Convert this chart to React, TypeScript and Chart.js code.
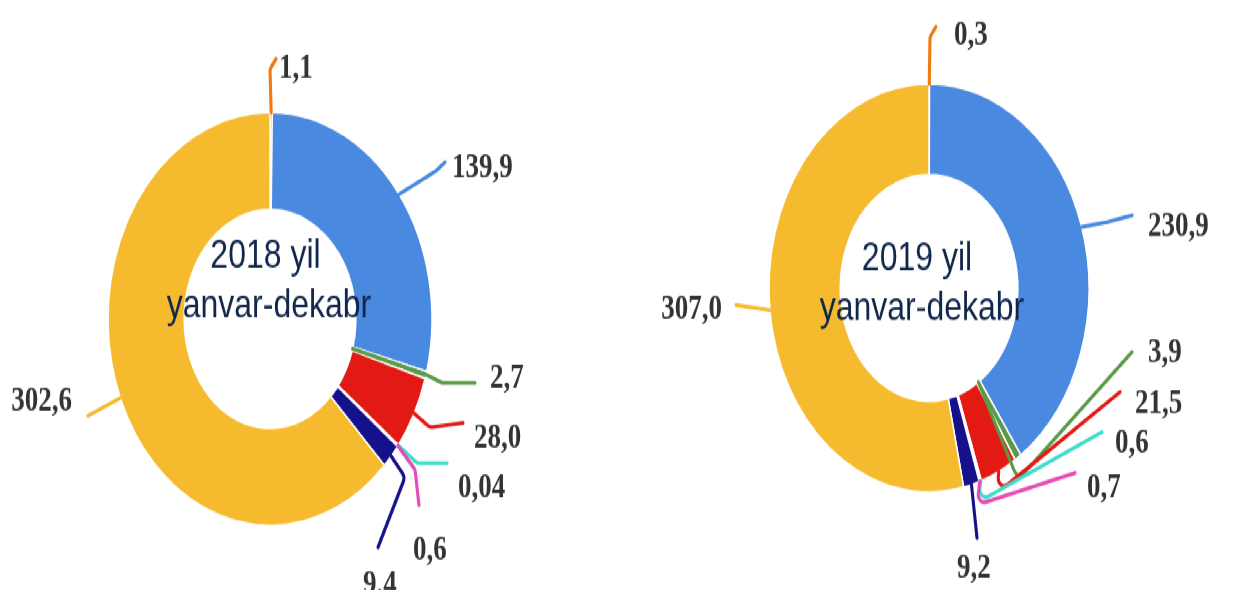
import React, { useEffect, useRef } from 'react';
import { Chart, registerables } from 'chart.js';

Chart.register(...registerables);

// ---------- data ----------
const categories = ['Seg 1', 'Seg 2', 'Seg 3', 'Seg 4', 'Seg 5', 'Seg 6', 'Seg 7', 'Seg 8'];
const values2018 = [1.1, 139.9, 2.7, 28.0, 0.04, 0.6, 9.4, 302.6];
const values2019 = [0.3, 230.9, 3.9, 21.5, 0.6, 0.7, 9.2, 307.0];
const title2018 = ['2018 yil', 'yanvar-dekabr'];
const title2019 = ['2019 yil', 'yanvar-dekabr'];

// ---------- style ----------
const colors = ['#EE7A10', '#4A89E0', '#5A9A46', '#E31A14', '#40DCC8', '#E64CB4', '#14118A', '#F6BA2E'];
const STRETCH = 1.275;
const CANVAS_H = 463;

type Leader = {
  from: 'outer' | 'inner';
  pts: [number, number][];
  label: [number, number];
  align: CanvasTextAlign;
};

// offsets relative to doughnut centre (pre-stretch px)
const leaders2018: Leader[] = [
  { from: 'outer', pts: [[0, -196], [6, -204]], label: [9, -189], align: 'left' },
  { from: 'outer', pts: [[166, -116], [175, -123]], label: [182, -111], align: 'left' },
  { from: 'inner', pts: [[157, 44], [172, 50], [205, 50]], label: [220, 53.5], align: 'left' },
  { from: 'outer', pts: [[160, 85], [193, 81.5]], label: [204, 100.5], align: 'left' },
  { from: 'outer', pts: [[147, 113], [177, 113]], label: [188, 139.6], align: 'left' },
  { from: 'outer', pts: [[145, 118], [149, 146]], label: [143, 189], align: 'left' },
  { from: 'outer', pts: [[135, 124], [108, 179]], label: [93, 215.5], align: 'left' },
  { from: 'outer', pts: [[-182, 76]], label: [-198, 71.4], align: 'right' },
];

const leaders2019: Leader[] = [
  { from: 'outer', pts: [[1, -197], [7, -205]], label: [25, -191.4], align: 'left' },
  { from: 'outer', pts: [[180, -52], [203, -57]], label: [219, -40.8], align: 'left' },
  { from: 'inner', pts: [[89, 150.6], [203, 50.2]], label: [219, 58], align: 'left' },
  { from: 'outer', pts: [[68, 161], [191, 81.6]], label: [206, 98], align: 'left' },
  { from: 'outer', pts: [[49, 168], [173, 113]], label: [186, 129.4], align: 'left' },
  { from: 'outer', pts: [[48, 170], [146, 145]], label: [158, 164], align: 'left' },
  { from: 'outer', pts: [[48, 196]], label: [28, 227.5], align: 'left' },
  { from: 'outer', pts: [[-193, 13.3]], label: [-207, 24.3], align: 'right' },
];

const fmt = (v: number) => v.toFixed(v < 0.1 ? 2 : 1).replace('.', ',');

function makePlugin(leaders: Leader[], title: string[], titleOffsets: [number, number][]) {
  return {
    id: 'leadersAndTitle',
    afterDatasetsDraw(chart: any) {
      const ctx: CanvasRenderingContext2D = chart.ctx;
      const meta = chart.getDatasetMeta(0);
      const values: number[] = chart.data.datasets[0].data;
      ctx.save();
      meta.data.forEach((arc: any, i: number) => {
        const L = leaders[i];
        if (!L) return;
        const p = arc.getProps(['x', 'y', 'startAngle', 'endAngle', 'innerRadius', 'outerRadius'], true);
        const mid = (p.startAngle + p.endAngle) / 2;
        const r = L.from === 'outer' ? p.outerRadius : p.innerRadius;
        const pts: [number, number][] = [[p.x + Math.cos(mid) * r, p.y + Math.sin(mid) * r]];
        L.pts.forEach(([dx, dy]) => pts.push([p.x + dx, p.y + dy]));
        ctx.strokeStyle = colors[i];
        ctx.lineWidth = 3.1;
        ctx.lineCap = 'round';
        ctx.lineJoin = 'round';
        ctx.beginPath();
        ctx.moveTo(pts[0][0], pts[0][1]);
        for (let k = 1; k < pts.length; k++) {
          if (k < pts.length - 1) {
            ctx.arcTo(pts[k][0], pts[k][1], pts[k + 1][0], pts[k + 1][1], 6);
          } else {
            ctx.lineTo(pts[k][0], pts[k][1]);
          }
        }
        ctx.stroke();
        ctx.fillStyle = '#333333';
        ctx.font = 'bold 27px "Liberation Serif", "Times New Roman", serif';
        ctx.textAlign = L.align;
        ctx.textBaseline = 'alphabetic';
        ctx.fillText(fmt(values[i]), p.x + L.label[0], p.y + L.label[1]);
      });
      const c = meta.data[0].getProps(['x', 'y'], true);
      ctx.fillStyle = '#10264A';
      ctx.font = '32px "Liberation Sans", Arial, sans-serif';
      ctx.textAlign = 'center';
      title.forEach((t, k) => {
        ctx.fillText(t, c.x + titleOffsets[k][0], c.y + titleOffsets[k][1]);
      });
      ctx.restore();
    },
  };
}

function Donut(props: {
  values: number[];
  leaders: Leader[];
  title: string[];
  titleOffsets: [number, number][];
  left: number;
  width: number;
  padding: { top: number; bottom: number; left: number; right: number };
  radius: number;
  cutout: string;
}) {
  const ref = useRef<HTMLCanvasElement>(null);
  useEffect(() => {
    if (!ref.current) return;
    const chart = new Chart(ref.current, {
      type: 'doughnut',
      data: {
        labels: categories,
        datasets: [
          {
            data: props.values,
            backgroundColor: colors,
            borderColor: '#ffffff',
            borderWidth: 1.5,
            radius: props.radius,
            cutout: props.cutout,
          } as any,
        ],
      },
      options: {
        animation: false,
        responsive: false,
        devicePixelRatio: 1,
        events: [],
        layout: { padding: props.padding },
        plugins: { legend: { display: false }, tooltip: { enabled: false } },
      },
      plugins: [makePlugin(props.leaders, props.title, props.titleOffsets)],
    });
    return () => chart.destroy();
  }, []);
  return (
    <canvas
      ref={ref}
      width={props.width}
      height={CANVAS_H}
      style={{ position: 'absolute', left: props.left, top: 0, width: props.width, height: CANVAS_H }}
    />
  );
}

export default function App() {
  return (
    <div
      style={{
        position: 'absolute',
        left: 0,
        top: 0,
        width: 1246,
        height: CANVAS_H,
        background: '#ffffff',
        transform: `scaleY(${STRETCH})`,
        transformOrigin: '0 0',
        overflow: 'hidden',
      }}
    >
      <Donut
        values={values2018}
        leaders={leaders2018}
        title={title2018}
        titleOffsets={[[-4.5, -40], [-1, -0.8]]}
        left={0}
        width={560}
        padding={{ top: 37.4, bottom: 0, left: 0, right: 20 }}
        radius={162}
        cutout="53%"
      />
      <Donut
        values={values2019}
        leaders={leaders2019}
        title={title2019}
        titleOffsets={[[-12, -14], [-7, 25.5]]}
        left={600}
        width={646}
        padding={{ top: 0, bottom: 11.2, left: 12, right: 0 }}
        radius={160}
        cutout="55.5%"
      />
    </div>
  );
}
